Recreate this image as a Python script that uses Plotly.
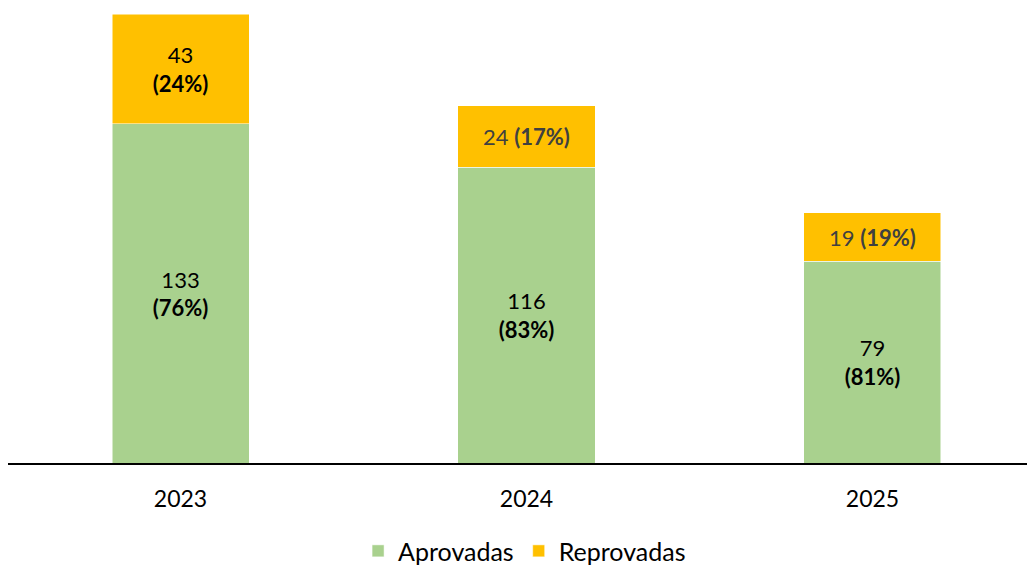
import plotly.graph_objects as go

years = ["2023", "2024", "2025"]
aprovadas = [133, 116, 79]
reprovadas = [43, 24, 19]
aprov_pct = [76, 83, 81]
reprov_pct = [24, 17, 19]

aprov_text = [f"{v}<br><b>({p}%)</b>" for v, p in zip(aprovadas, aprov_pct)]
reprov_text = [f"{reprovadas[0]}<br><b>({reprov_pct[0]}%)</b>"] + [
    f"{v} <b>({p}%)</b>" for v, p in zip(reprovadas[1:], reprov_pct[1:])
]

FONT = "Lato"

fig = go.Figure()
fig.add_trace(go.Bar(
    x=years, y=aprovadas, name="Aprovadas",
    marker=dict(color="#A9D18E", line=dict(color="white", width=0.5)),
    text=aprov_text, textposition="inside", insidetextanchor="middle",
    textangle=0, constraintext="none",
    textfont=dict(family=FONT, size=22, color="black"),
    hoverinfo="skip",
))
fig.add_trace(go.Bar(
    x=years, y=reprovadas, name="Reprovadas",
    marker=dict(color="#FFC000", line=dict(color="white", width=0.5)),
    text=reprov_text, textposition="inside", insidetextanchor="middle",
    textangle=0, constraintext="none",
    textfont=dict(family=FONT, size=22, color=["black", "#404040", "#404040"]),
    hoverinfo="skip",
))

fig.update_layout(
    barmode="stack",
    bargap=0.604,
    width=1027, height=558,
    margin=dict(l=0, r=0, t=6, b=103, autoexpand=False),
    plot_bgcolor="white", paper_bgcolor="white",
    font=dict(family=FONT, size=22, color="black"),
    showlegend=True,
    legend=dict(orientation="h", xanchor="center", x=0.503, yanchor="top", y=-0.145,
                font=dict(family=FONT, size=25, color="black"), itemwidth=30,
                traceorder="normal"),
    uniformtext=dict(mode=False),
)
fig.update_xaxes(
    type="category", range=[-0.4986, 2.4697], showline=True, linecolor="black", linewidth=2,
    ticks="", tickfont=dict(family=FONT, size=23, color="black"), showgrid=False,
    ticklabelstandoff=14,
)
fig.update_yaxes(range=[0, 176], visible=False, showgrid=False, zeroline=False)

fig.write_html("out.html")
